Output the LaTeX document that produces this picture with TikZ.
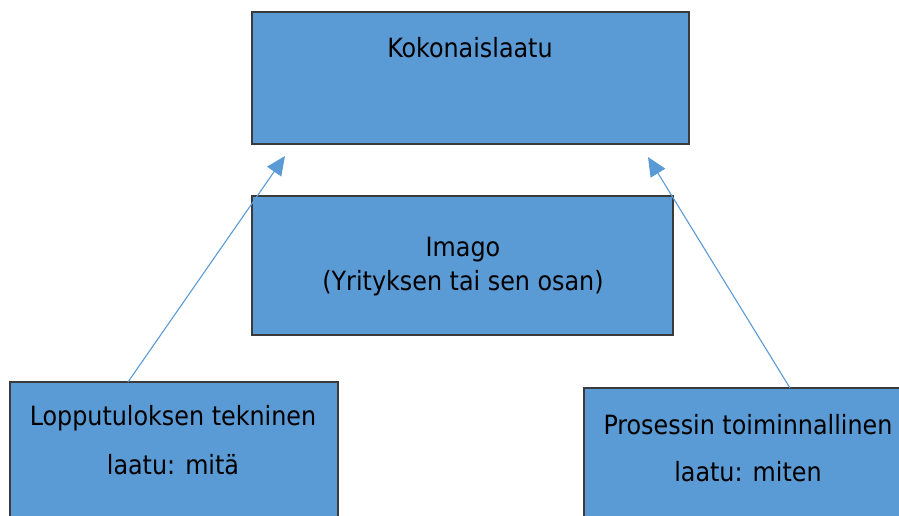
\documentclass[tikz,border=0pt]{standalone}
\usepackage{fontspec}
\setmainfont{DejaVu Sans Condensed}
\usetikzlibrary{arrows.meta}
\definecolor{boxblue}{HTML}{5B9BD5}
\definecolor{boxedge}{HTML}{3A3A3A}
\tikzset{
  qbox/.style={draw=boxedge, line width=1.3pt, fill=boxblue},
  qtext/.style={font=\fontsize{26.5}{30}\selectfont, text=black, inner sep=0pt, anchor=center},
  qarrow/.style={draw=boxblue, line width=1.1pt, -{Triangle[length=19pt,width=17pt]}}
}
\begin{document}
\begin{tikzpicture}[x=1pt,y=1pt]
\useasboundingbox (0,0) rectangle (899,515);
\fill[white] (0,0) rectangle (899,515);
% boxes
\draw[qbox] (252,371) rectangle (689,503);
\node[qtext] (kok) at (470,467) {Kokonaislaatu};
\draw[qbox] (252,180) rectangle (673,319);
\node[qtext] (imago) at (463,265) {Imago};
\node[qtext] (yrit) at (463,232) {(Yrityksen tai sen osan)};
\draw[qbox] (10,-10) rectangle (338,133);
\node[qtext] (lop) at (173,97) {Lopputuloksen tekninen};
\node[qtext] (lopb) at (173,50) {laatu: mitä};
\draw[qbox] (584,-10) rectangle (910,127);
\node[qtext] (pro) at (748,90) {Prosessin toiminnallinen};
\node[qtext] (prob) at (748,43) {laatu: miten};
% arrows
\coordinate (l0) at (128,133);
\coordinate (l1) at (285,359);
\coordinate (r0) at (790,127);
\coordinate (r1) at (648,358);
\draw[qarrow] (l0) -- (l1);
\draw[qarrow] (r0) -- (r1);
\end{tikzpicture}
\end{document}
